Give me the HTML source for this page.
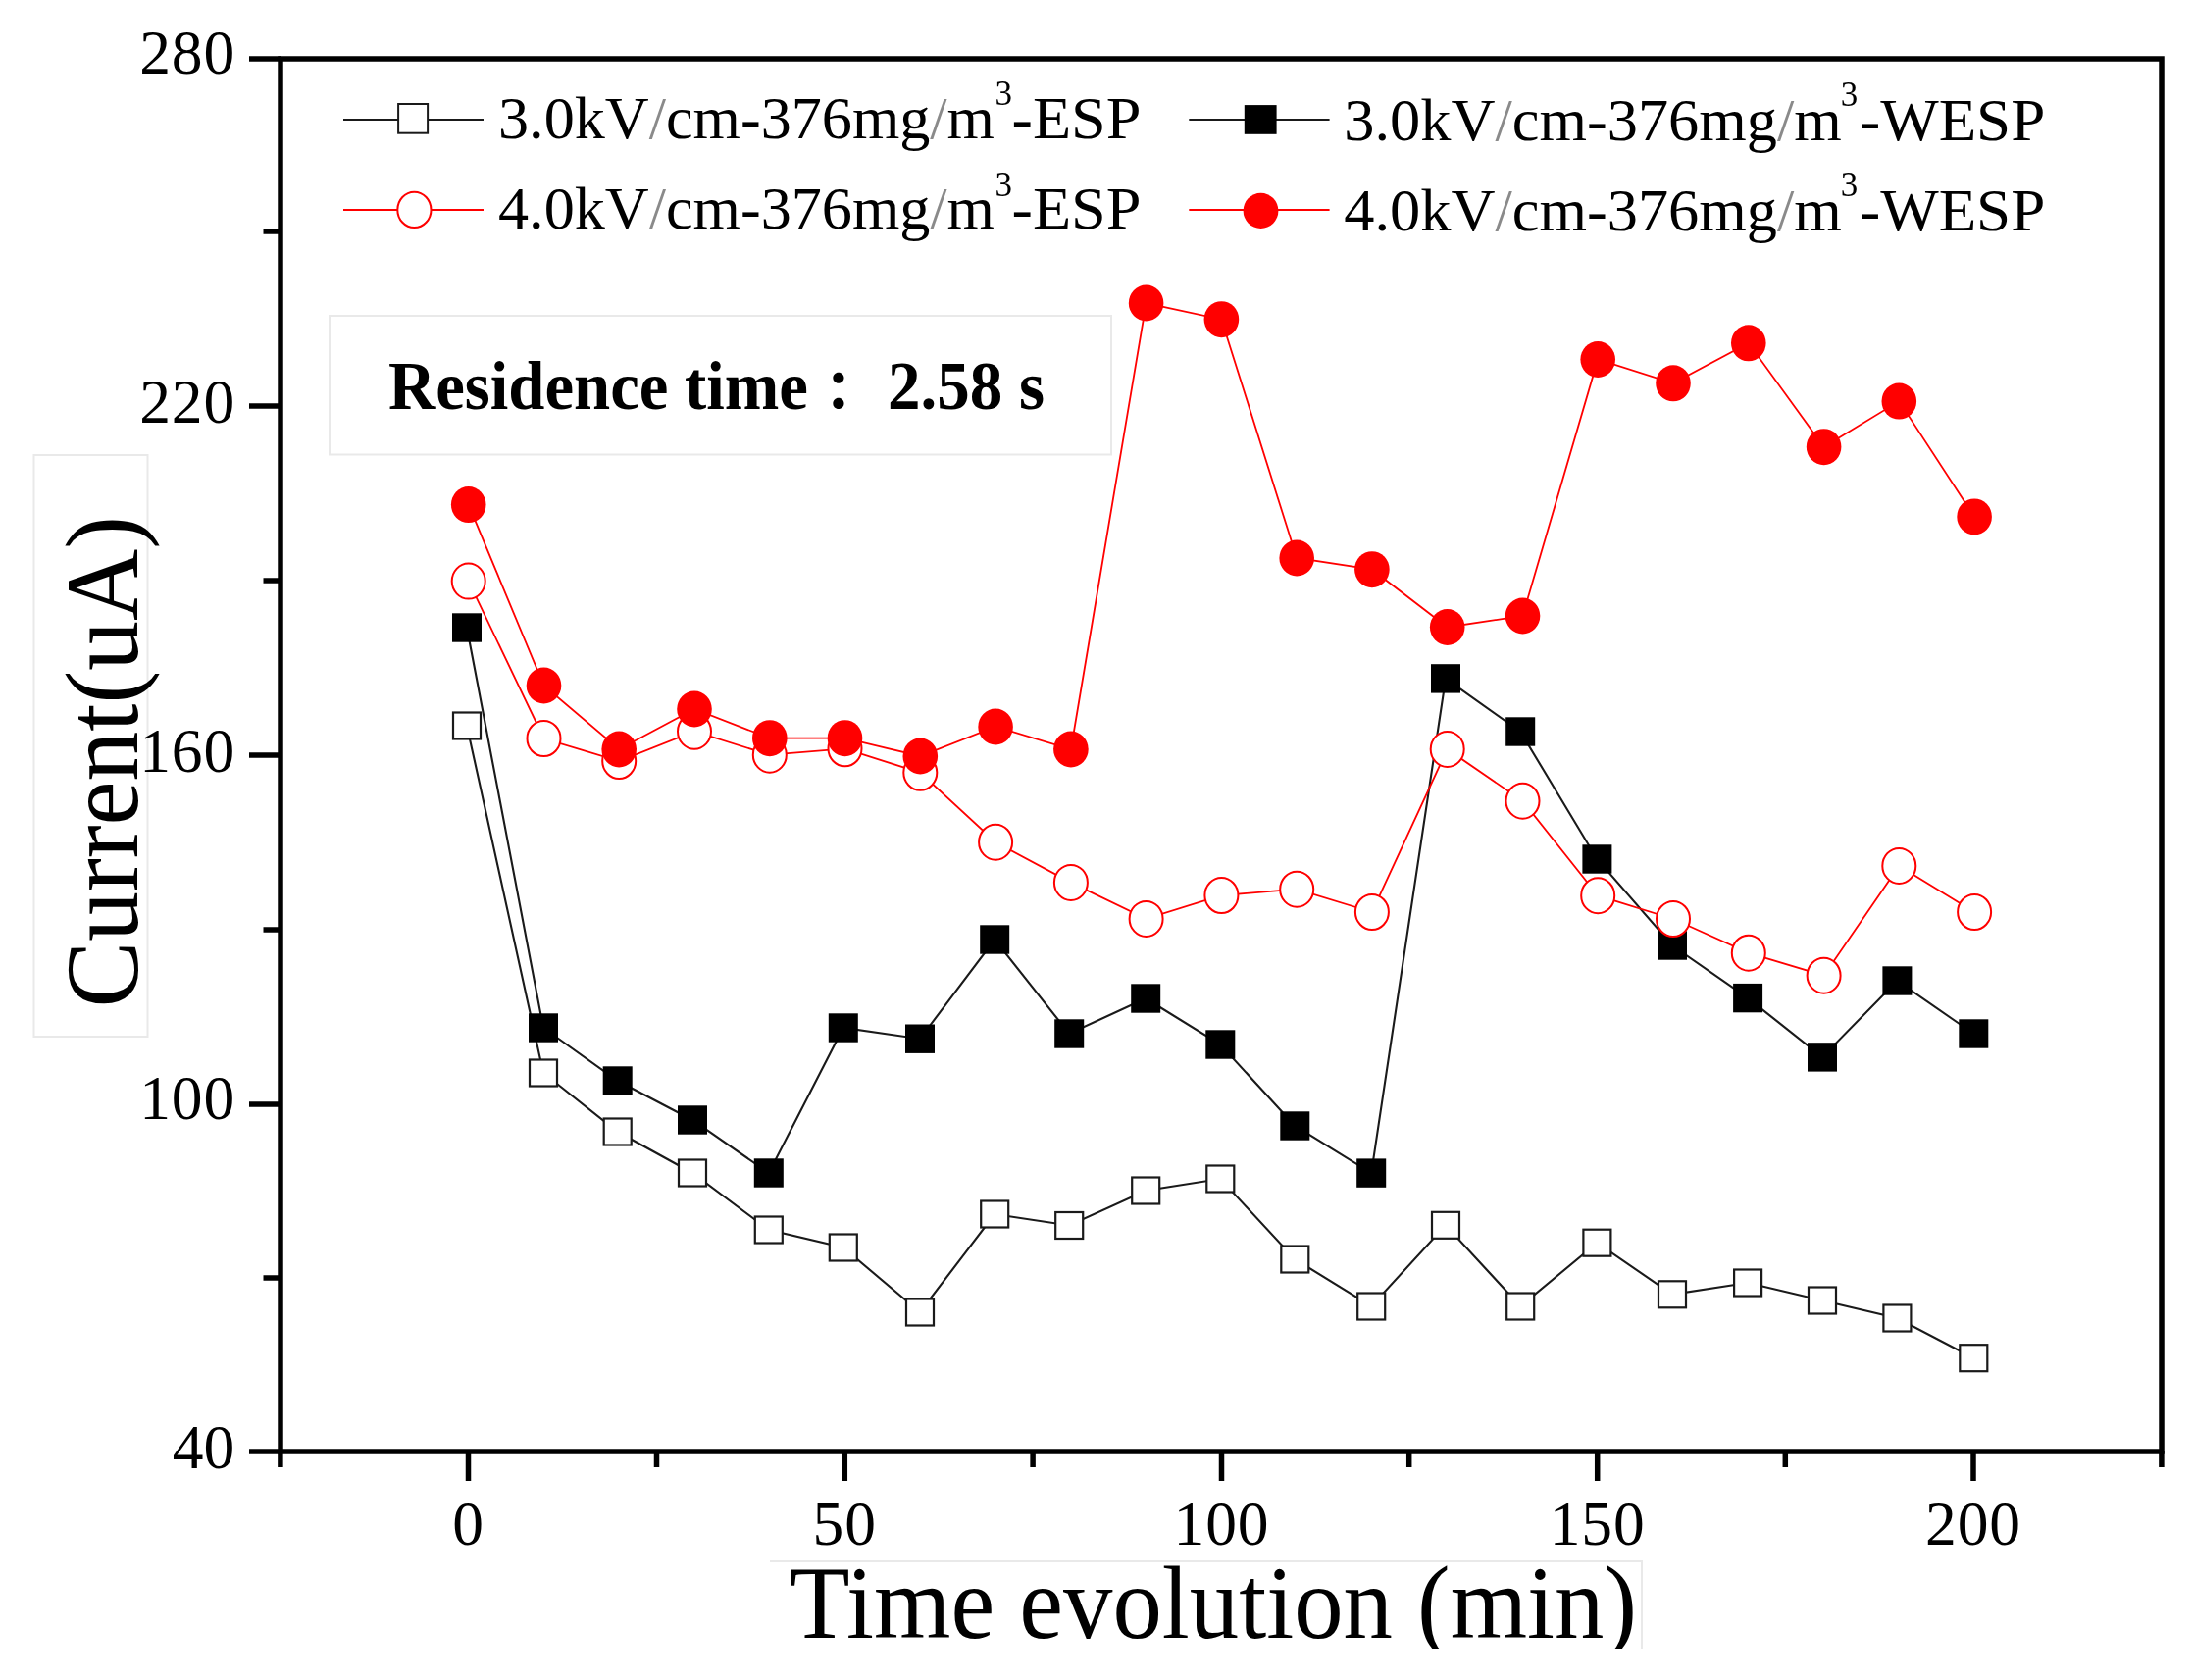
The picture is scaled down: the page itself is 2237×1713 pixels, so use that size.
<!DOCTYPE html>
<html lang="en"><head><meta charset="utf-8"><title>Current vs Time evolution</title>
<style>
html,body{margin:0;padding:0;background:#fff;}
body{width:2237px;height:1713px;overflow:hidden;position:relative;}
svg{position:absolute;left:0;top:0;display:block;filter:blur(0.45px);}
text{font-family:"Liberation Serif","Noto Serif CJK SC",serif;fill:#000;}
</style></head><body>
<svg width="2237" height="1713" viewBox="0 0 2237 1713">
<rect x="0" y="0" width="2237" height="1713" fill="#fff"/>

<g fill="#fff" stroke="#e9e9e9" stroke-width="2">
<rect x="34.5" y="464" width="116" height="593"/>
<rect x="336" y="322" width="797" height="141.5"/>
</g>
<clipPath id="xlc"><rect x="770" y="1580" width="920" height="101"/></clipPath>
<g clip-path="url(#xlc)"><path d="M785 1592H1674V1690" fill="none" stroke="#e9e9e9" stroke-width="2"/>
<text x="805" y="1670.3" font-size="105.5" textLength="864" lengthAdjust="spacingAndGlyphs">Time evolution (min)</text></g>
<text transform="translate(139.5,1027.5) rotate(-90)" x="0" y="0" font-size="106" textLength="501.5" lengthAdjust="spacingAndGlyphs">Current(uA)</text>
<text y="417" font-size="70" font-weight="bold"><tspan x="396" textLength="428" lengthAdjust="spacingAndGlyphs">Residence time</tspan><tspan x="825.8" y="418.5" font-size="58.6" font-weight="900" style="font-family:'Noto Serif CJK JP',serif">：</tspan><tspan x="905" y="417" textLength="160" lengthAdjust="spacingAndGlyphs">2.58 s</tspan></text>
<g stroke="#000" stroke-width="5.5" fill="none" stroke-linecap="butt">
<rect x="286" y="60" width="1918" height="1420"/>
<line x1="254" y1="60" x2="286" y2="60"/>
<line x1="254" y1="414" x2="286" y2="414"/>
<line x1="254" y1="770" x2="286" y2="770"/>
<line x1="254" y1="1126" x2="286" y2="1126"/>
<line x1="254" y1="1480" x2="286" y2="1480"/>
<line x1="268.5" y1="236" x2="286" y2="236"/>
<line x1="268.5" y1="592" x2="286" y2="592"/>
<line x1="268.5" y1="948" x2="286" y2="948"/>
<line x1="268.5" y1="1303" x2="286" y2="1303"/>
<line x1="477.5" y1="1480" x2="477.5" y2="1510"/>
<line x1="861.3" y1="1480" x2="861.3" y2="1510"/>
<line x1="1245.5" y1="1480" x2="1245.5" y2="1510"/>
<line x1="1628.7" y1="1480" x2="1628.7" y2="1510"/>
<line x1="2012" y1="1480" x2="2012" y2="1510"/>
<line x1="285.9" y1="1480" x2="285.9" y2="1496"/>
<line x1="669.5" y1="1480" x2="669.5" y2="1496"/>
<line x1="1053.1" y1="1480" x2="1053.1" y2="1496"/>
<line x1="1436.7" y1="1480" x2="1436.7" y2="1496"/>
<line x1="1820.3" y1="1480" x2="1820.3" y2="1496"/>
<line x1="2203.9" y1="1480" x2="2203.9" y2="1496"/>
</g>
<g font-size="63.5">
<text x="239.2" y="74.9" text-anchor="end" textLength="97" lengthAdjust="spacing">280</text>
<text x="239.2" y="431.2" text-anchor="end" textLength="97" lengthAdjust="spacing">220</text>
<text x="239.2" y="786.6" text-anchor="end" textLength="97" lengthAdjust="spacing">160</text>
<text x="239.2" y="1141.1" text-anchor="end" textLength="97" lengthAdjust="spacing">100</text>
<text x="239.2" y="1496.7" text-anchor="end">40</text>
<text x="477.0" y="1575.2" text-anchor="middle">0</text>
<text x="860.8" y="1575.2" text-anchor="middle" textLength="64.5" lengthAdjust="spacing">50</text>
<text x="1245.0" y="1575.2" text-anchor="middle" textLength="97" lengthAdjust="spacing">100</text>
<text x="1628.2" y="1575.2" text-anchor="middle" textLength="97" lengthAdjust="spacing">150</text>
<text x="2011.5" y="1575.2" text-anchor="middle" textLength="97" lengthAdjust="spacing">200</text>
</g>
<polyline points="476.0,740.0 554.0,1094.0 629.7,1154.0 706.0,1196.0 783.8,1254.0 859.8,1272.0 938.0,1338.0 1014.2,1238.0 1090.2,1249.5 1168.2,1214.0 1244.3,1202.0 1320.3,1284.0 1398.2,1332.0 1474.0,1249.3 1550.2,1332.0 1628.4,1267.2 1705.0,1319.8 1782.1,1308.0 1858.0,1326.0 1934.4,1344.0 2012.3,1384.7" fill="none" stroke="#1a1a1a" stroke-width="2.1"/>
<g fill="#fff" stroke="#1a1a1a" stroke-width="2.2">
<rect x="462.0" y="726.5" width="28" height="27"/>
<rect x="540.0" y="1080.5" width="28" height="27"/>
<rect x="615.7" y="1140.5" width="28" height="27"/>
<rect x="692.0" y="1182.5" width="28" height="27"/>
<rect x="769.8" y="1240.5" width="28" height="27"/>
<rect x="845.8" y="1258.5" width="28" height="27"/>
<rect x="924.0" y="1324.5" width="28" height="27"/>
<rect x="1000.2" y="1224.5" width="28" height="27"/>
<rect x="1076.2" y="1236.0" width="28" height="27"/>
<rect x="1154.2" y="1200.5" width="28" height="27"/>
<rect x="1230.3" y="1188.5" width="28" height="27"/>
<rect x="1306.3" y="1270.5" width="28" height="27"/>
<rect x="1384.2" y="1318.5" width="28" height="27"/>
<rect x="1460.0" y="1235.8" width="28" height="27"/>
<rect x="1536.2" y="1318.5" width="28" height="27"/>
<rect x="1614.4" y="1253.7" width="28" height="27"/>
<rect x="1691.0" y="1306.3" width="28" height="27"/>
<rect x="1768.1" y="1294.5" width="28" height="27"/>
<rect x="1844.0" y="1312.5" width="28" height="27"/>
<rect x="1920.4" y="1330.5" width="28" height="27"/>
<rect x="1998.3" y="1371.2" width="28" height="27"/>
</g>
<polyline points="476.0,640.0 554.0,1048.0 629.7,1102.0 706.0,1142.0 783.8,1196.0 859.8,1048.0 938.0,1059.2 1014.2,958.0 1090.2,1054.0 1168.2,1018.0 1244.3,1065.0 1320.3,1148.0 1398.2,1196.1 1474.0,691.9 1550.2,746.0 1628.4,876.0 1705.0,964.0 1782.1,1017.6 1858.0,1077.9 1934.4,1000.0 2012.3,1054.0" fill="none" stroke="#1a1a1a" stroke-width="2.1"/>
<g fill="#000">
<rect x="461.0" y="625.3" width="30" height="29.4"/>
<rect x="539.0" y="1033.3" width="30" height="29.4"/>
<rect x="614.7" y="1087.3" width="30" height="29.4"/>
<rect x="691.0" y="1127.3" width="30" height="29.4"/>
<rect x="768.8" y="1181.3" width="30" height="29.4"/>
<rect x="844.8" y="1033.3" width="30" height="29.4"/>
<rect x="923.0" y="1044.5" width="30" height="29.4"/>
<rect x="999.2" y="943.3" width="30" height="29.4"/>
<rect x="1075.2" y="1039.3" width="30" height="29.4"/>
<rect x="1153.2" y="1003.3" width="30" height="29.4"/>
<rect x="1229.3" y="1050.3" width="30" height="29.4"/>
<rect x="1305.3" y="1133.3" width="30" height="29.4"/>
<rect x="1383.2" y="1181.4" width="30" height="29.4"/>
<rect x="1459.0" y="677.2" width="30" height="29.4"/>
<rect x="1535.2" y="731.3" width="30" height="29.4"/>
<rect x="1613.4" y="861.3" width="30" height="29.4"/>
<rect x="1690.0" y="949.3" width="30" height="29.4"/>
<rect x="1767.1" y="1002.9" width="30" height="29.4"/>
<rect x="1843.0" y="1063.2" width="30" height="29.4"/>
<rect x="1919.4" y="985.3" width="30" height="29.4"/>
<rect x="1997.3" y="1039.3" width="30" height="29.4"/>
</g>
<polyline points="477.7,592.6 554.5,753.0 631.2,776.0 708.0,745.7 784.8,769.7 861.5,763.3 938.3,787.8 1015.1,858.7 1091.9,899.9 1168.6,936.9 1245.4,913.0 1322.2,906.7 1398.9,930.0 1475.7,763.9 1552.5,816.7 1629.2,913.2 1706.0,937.0 1782.8,971.7 1859.6,994.7 1936.3,882.9 2013.1,930.0" fill="none" stroke="#ff0000" stroke-width="1.8"/>
<g fill="#fff" stroke="#ff0000" stroke-width="2">
<ellipse cx="477.7" cy="592.6" rx="17" ry="18"/>
<ellipse cx="554.5" cy="753.0" rx="17" ry="18"/>
<ellipse cx="631.2" cy="776.0" rx="17" ry="18"/>
<ellipse cx="708.0" cy="745.7" rx="17" ry="18"/>
<ellipse cx="784.8" cy="769.7" rx="17" ry="18"/>
<ellipse cx="861.5" cy="763.3" rx="17" ry="18"/>
<ellipse cx="938.3" cy="787.8" rx="17" ry="18"/>
<ellipse cx="1015.1" cy="858.7" rx="17" ry="18"/>
<ellipse cx="1091.9" cy="899.9" rx="17" ry="18"/>
<ellipse cx="1168.6" cy="936.9" rx="17" ry="18"/>
<ellipse cx="1245.4" cy="913.0" rx="17" ry="18"/>
<ellipse cx="1322.2" cy="906.7" rx="17" ry="18"/>
<ellipse cx="1398.9" cy="930.0" rx="17" ry="18"/>
<ellipse cx="1475.7" cy="763.9" rx="17" ry="18"/>
<ellipse cx="1552.5" cy="816.7" rx="17" ry="18"/>
<ellipse cx="1629.2" cy="913.2" rx="17" ry="18"/>
<ellipse cx="1706.0" cy="937.0" rx="17" ry="18"/>
<ellipse cx="1782.8" cy="971.7" rx="17" ry="18"/>
<ellipse cx="1859.6" cy="994.7" rx="17" ry="18"/>
<ellipse cx="1936.3" cy="882.9" rx="17" ry="18"/>
<ellipse cx="2013.1" cy="930.0" rx="17" ry="18"/>
</g>
<polyline points="477.7,514.6 554.5,699.0 631.2,764.0 708.0,723.0 784.8,752.7 861.5,752.7 938.3,771.0 1015.1,741.0 1091.9,764.0 1168.6,309.0 1245.4,325.7 1322.2,569.0 1398.9,580.7 1475.7,639.5 1552.5,628.0 1629.2,366.5 1706.0,390.8 1782.8,349.8 1859.6,455.7 1936.3,409.1 2013.1,526.9" fill="none" stroke="#ff0000" stroke-width="1.8"/>
<g fill="#ff0000">
<ellipse cx="477.7" cy="514.6" rx="17.8" ry="18.5"/>
<ellipse cx="554.5" cy="699.0" rx="17.8" ry="18.5"/>
<ellipse cx="631.2" cy="764.0" rx="17.8" ry="18.5"/>
<ellipse cx="708.0" cy="723.0" rx="17.8" ry="18.5"/>
<ellipse cx="784.8" cy="752.7" rx="17.8" ry="18.5"/>
<ellipse cx="861.5" cy="752.7" rx="17.8" ry="18.5"/>
<ellipse cx="938.3" cy="771.0" rx="17.8" ry="18.5"/>
<ellipse cx="1015.1" cy="741.0" rx="17.8" ry="18.5"/>
<ellipse cx="1091.9" cy="764.0" rx="17.8" ry="18.5"/>
<ellipse cx="1168.6" cy="309.0" rx="17.8" ry="18.5"/>
<ellipse cx="1245.4" cy="325.7" rx="17.8" ry="18.5"/>
<ellipse cx="1322.2" cy="569.0" rx="17.8" ry="18.5"/>
<ellipse cx="1398.9" cy="580.7" rx="17.8" ry="18.5"/>
<ellipse cx="1475.7" cy="639.5" rx="17.8" ry="18.5"/>
<ellipse cx="1552.5" cy="628.0" rx="17.8" ry="18.5"/>
<ellipse cx="1629.2" cy="366.5" rx="17.8" ry="18.5"/>
<ellipse cx="1706.0" cy="390.8" rx="17.8" ry="18.5"/>
<ellipse cx="1782.8" cy="349.8" rx="17.8" ry="18.5"/>
<ellipse cx="1859.6" cy="455.7" rx="17.8" ry="18.5"/>
<ellipse cx="1936.3" cy="409.1" rx="17.8" ry="18.5"/>
<ellipse cx="2013.1" cy="526.9" rx="17.8" ry="18.5"/>
</g>
<g>
<line x1="350" y1="121.9" x2="493" y2="121.9" stroke="#1a1a1a" stroke-width="2"/>
<rect x="406.1" y="106" width="30" height="29.7" fill="#fff" stroke="#1a1a1a" stroke-width="2"/>
<line x1="350" y1="214" x2="493" y2="214" stroke="#ff0000" stroke-width="2"/>
<ellipse cx="422.4" cy="213.9" rx="17.1" ry="18.2" fill="#fff" stroke="#ff0000" stroke-width="2"/>
<line x1="1212.3" y1="122" x2="1355.6" y2="122" stroke="#1a1a1a" stroke-width="2"/>
<rect x="1268.8" y="107.1" width="32.8" height="29.7" fill="#000"/>
<line x1="1212.3" y1="214.1" x2="1355.6" y2="214.1" stroke="#ff0000" stroke-width="2"/>
<ellipse cx="1285.5" cy="214.9" rx="17.9" ry="18.1" fill="#ff0000"/>
</g>
<text x="508" y="140.8" font-size="62"><tspan textLength="506" lengthAdjust="spacingAndGlyphs">3.0kV<tspan fill="#8a8a8a">/</tspan>cm-376mg<tspan fill="#8a8a8a">/</tspan>m</tspan><tspan x="1014.5" y="107.3" font-size="35">3</tspan><tspan x="1031.5" y="140.8" textLength="132" lengthAdjust="spacingAndGlyphs">-ESP</tspan></text>
<text x="508" y="232.9" font-size="62"><tspan textLength="506" lengthAdjust="spacingAndGlyphs">4.0kV<tspan fill="#8a8a8a">/</tspan>cm-376mg<tspan fill="#8a8a8a">/</tspan>m</tspan><tspan x="1014.5" y="199.7" font-size="35">3</tspan><tspan x="1031.5" y="232.9" textLength="132" lengthAdjust="spacingAndGlyphs">-ESP</tspan></text>
<text x="1370.3" y="142.7" font-size="62"><tspan textLength="507.5" lengthAdjust="spacingAndGlyphs">3.0kV<tspan fill="#8a8a8a">/</tspan>cm-376mg<tspan fill="#8a8a8a">/</tspan>m</tspan><tspan x="1876.8" y="107.6" font-size="35">3</tspan><tspan x="1896.2" y="142.7" textLength="189" lengthAdjust="spacingAndGlyphs">-WESP</tspan></text>
<text x="1370.3" y="234.9" font-size="62"><tspan textLength="507.5" lengthAdjust="spacingAndGlyphs">4.0kV<tspan fill="#8a8a8a">/</tspan>cm-376mg<tspan fill="#8a8a8a">/</tspan>m</tspan><tspan x="1876.8" y="199.8" font-size="35">3</tspan><tspan x="1896.2" y="234.9" textLength="189" lengthAdjust="spacingAndGlyphs">-WESP</tspan></text>
</svg>
</body></html>
